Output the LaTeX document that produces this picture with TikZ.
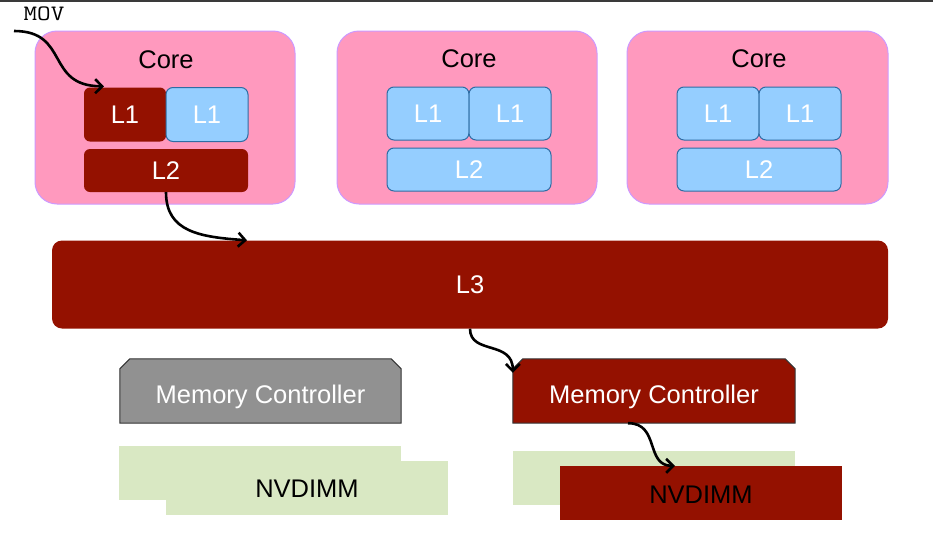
\documentclass[tikz,border=0pt]{standalone}
\usepackage{fontspec}
\setmainfont{Liberation Sans}
\usetikzlibrary{arrows.meta}
\definecolor{corepink}{HTML}{FF99BE}
\definecolor{coreedge}{HTML}{CC99FF}
\definecolor{darkred}{HTML}{941100}
\definecolor{cacheblue}{HTML}{95CEFF}
\definecolor{blueedge}{HTML}{2E6DA4}
\definecolor{mcgray}{HTML}{919191}
\definecolor{dimmgreen}{HTML}{D9E8C3}
\definecolor{topline}{HTML}{3A3A3A}
\tikzset{
  txt/.style={font=\fontsize{25.5}{30}\selectfont, inner sep=0pt},
  corebox/.style={draw=coreedge, line width=1pt, fill=corepink, rounded corners=22pt, minimum width=260pt, minimum height=173pt, inner sep=0pt},
  redcache/.style={fill=darkred, rounded corners=6pt, inner sep=0pt, txt, text=white},
  bluecache/.style={draw=blueedge, line width=1pt, fill=cacheblue, rounded corners=7pt, inner sep=0pt, txt, text=white},
  lone/.style={minimum width=82pt, minimum height=53pt},
  ltwo/.style={minimum width=164pt, minimum height=43pt},
  mcbox/.style={minimum width=281pt, minimum height=64pt, inner sep=0pt},
  mcedge/.style={draw=black!80, line width=1pt},
  dimm/.style={minimum width=282pt, minimum height=54pt, inner sep=0pt},
  flow/.style={line width=2.6pt, -{Straight Barb[length=7pt,width=14pt,line width=2.6pt]}},
}
\begin{document}
\begin{tikzpicture}[x=1pt,y=-1pt]
\useasboundingbox (0,0) rectangle (933,541);
\fill[topline] (0,0) rectangle (933,2);

% cores
\node[corebox] (core1) at (165,117.5) {};
\node[corebox] (core2) at (467,117.5) {};
\node[corebox, minimum width=261pt] (core3) at (757.5,117.5) {};
\node[txt] (c1t) at (166,60) {Core};
\node[txt] (c2t) at (469,59) {Core};
\node[txt] (c3t) at (759,59) {Core};

\node[redcache, lone, minimum height=54pt] (l1a) at (125,114.5) {L1};
\node[bluecache, lone, minimum height=54pt] (l1b) at (207,114.5) {L1};
\node[redcache, ltwo] (l2a) at (166,170.5) {L2};

\node[bluecache, lone] (l1c) at (428,113.5) {L1};
\node[bluecache, lone] (l1d) at (510,113.5) {L1};
\node[bluecache, ltwo] (l2b) at (469,169.5) {L2};

\node[bluecache, lone] (l1e) at (718,113.5) {L1};
\node[bluecache, lone] (l1f) at (800,113.5) {L1};
\node[bluecache, ltwo] (l2c) at (759,169.5) {L2};

% L3
\node[fill=darkred, rounded corners=10pt, minimum width=836pt, minimum height=88pt, inner sep=0pt, txt, text=white] (l3) at (470,284.5) {L3};

% memory controllers
\node[mcbox] (mcg) at (260.5,391) {};
\node[mcbox, minimum width=282pt] (mcr) at (654,391) {};
\path[mcedge, fill=mcgray] ([yshift=-10pt]mcg.north west) -- ([xshift=10pt]mcg.north west) -- ([xshift=-10pt]mcg.north east) -- ([yshift=-10pt]mcg.north east) -- (mcg.south east) -- (mcg.south west) -- cycle;
\path[mcedge, fill=darkred] ([yshift=-10pt]mcr.north west) -- ([xshift=10pt]mcr.north west) -- ([xshift=-10pt]mcr.north east) -- ([yshift=-10pt]mcr.north east) -- (mcr.south east) -- (mcr.south west) -- cycle;
\node[txt, text=white, anchor=base] (mcgt) at (260.5,403.5) {Memory Controller};
\node[txt, text=white, anchor=base] (mcrt) at (654,403.5) {Memory Controller};

% NVDIMMs
\node[dimm, fill=dimmgreen] (nvg1) at (260,473) {};
\node[dimm, fill=dimmgreen] (nvg2) at (307,488) {};
\node[txt] (nvgt) at (307,489) {NVDIMM};
\node[dimm, fill=dimmgreen] (nvg3) at (654,478) {};
\node[dimm, fill=darkred] (nvr) at (701,493) {};
\node[txt] (nvrt) at (701,494.5) {NVDIMM};

% MOV
\node[font=\ttfamily\fontsize{22}{26}\selectfont, inner sep=0pt] (mov) at (44,14) {\scalebox{1.2}[1]{MOV}};
\coordinate (movstart) at (14,31);

% arrows
\draw[flow] (movstart) .. controls (70,31) and (45,86) .. ([xshift=-21pt,yshift=1pt]l1a.north);
\draw[flow] (l2a.south) .. controls (166,232) and (200,237) .. ([xshift=-223pt]l3.north);
\draw[flow] (l3.south) .. controls (470,355) and (513,340) .. ([yshift=-14pt]mcr.north west);
\draw[flow] ([xshift=-26pt]mcr.south) .. controls (660,423) and (645,466) .. ([xshift=-26pt]nvr.north);
\end{tikzpicture}
\end{document}
